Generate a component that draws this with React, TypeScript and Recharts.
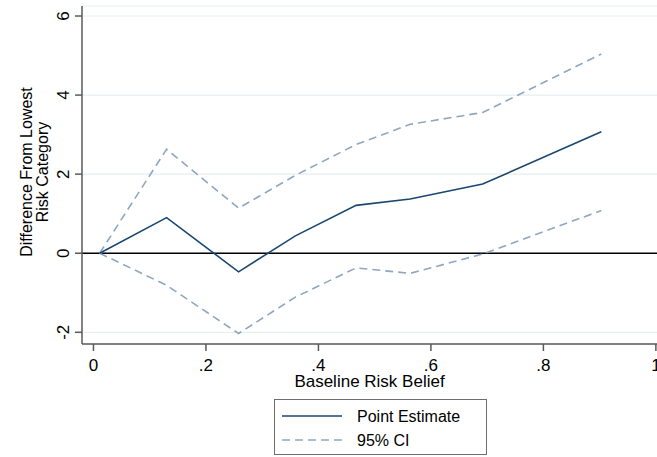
import React from "react";
import {
  LineChart,
  Line,
  CartesianGrid,
  XAxis,
  YAxis,
  ReferenceLine,
  Legend,
  Label,
} from "recharts";

const riskBelief = [0.011, 0.13, 0.258, 0.359, 0.467, 0.563, 0.692, 0.903];
const pointEstimate = [0, 0.9, -0.47, 0.44, 1.21, 1.37, 1.75, 3.07];
const ciUpper = [0, 2.63, 1.14, 1.97, 2.75, 3.26, 3.56, 5.04];
const ciLower = [0, -0.81, -2.03, -1.11, -0.37, -0.51, -0.02, 1.08];

const xTicks = [0, 0.2, 0.4, 0.6, 0.8, 1];
const yTicks = [-2, 0, 2, 4, 6];

const NAVY = "#1a476f";
const LIGHT = "#8fa7bf";
const AXIS = "#5a5a5a";
const FONT = "'Liberation Sans', Arial, sans-serif";

const data = riskBelief.map((x, i) => ({
  x,
  pe: pointEstimate[i],
  hi: ciUpper[i],
  lo: ciLower[i],
}));

const fmtX = (v: number) => (v === 0 || v === 1 ? String(v) : String(v).replace(/^0/, ""));

const XTick = (props: any) => {
  const { x, y, payload } = props;
  return (
    <text x={x} y={y + 20} textAnchor="middle" fontSize={17} fill="#000" fontFamily={FONT}>
      {fmtX(payload.value)}
    </text>
  );
};

const YTick = (props: any) => {
  const { x, y, payload } = props;
  return (
    <text
      transform={`translate(${x - 6},${y}) rotate(-90)`}
      textAnchor="middle"
      fontSize={17}
      fill="#000"
      fontFamily={FONT}
    >
      {payload.value}
    </text>
  );
};

const YTitle = () => (
  <g fontFamily={FONT} fontSize={16} fill="#000">
    <text transform="translate(31.5,172) rotate(-90)" textAnchor="middle">
      Difference From Lowest
    </text>
    <text transform="translate(48,172) rotate(-90)" textAnchor="middle">
      Risk Category
    </text>
  </g>
);

const LegendBox = () => (
  <svg width={214} height={57} style={{ display: "block" }}>
    <rect x={0.5} y={0.5} width={212} height={55} fill="#fff" stroke="#6e6e6e" strokeWidth={1} />
    <line x1={8} y1={17} x2={68} y2={17} stroke={NAVY} strokeWidth={1.6} />
    <line x1={8} y1={41} x2={68} y2={41} stroke={LIGHT} strokeWidth={1.6} strokeDasharray="8 5" />
    <text x={83} y={23} fontSize={16} fontFamily={FONT} fill="#000">
      Point Estimate
    </text>
    <text x={83} y={47} fontSize={16} fontFamily={FONT} fill="#000">
      95% CI
    </text>
  </svg>
);

export default function App() {
  return (
    <div
      style={{
        position: "absolute",
        left: 0,
        top: 0,
        width: 657,
        height: 457,
        background: "#fff",
        overflow: "hidden",
      }}
    >
      <LineChart
        width={657}
        height={457}
        data={data}
        margin={{ top: 6, right: 0, bottom: 0, left: 0 }}
      >
        <CartesianGrid horizontal vertical={false} stroke="#e6eef1" strokeWidth={1.2} />
        <XAxis
          dataKey="x"
          type="number"
          domain={[-0.0204, 1.002]}
          ticks={xTicks}
          allowDataOverflow
          height={113}
          tickSize={7}
          tickMargin={0}
          tick={<XTick />}
          stroke={AXIS}
          strokeWidth={1.5}
          interval={0}
        >
          <Label
            value="Baseline Risk Belief"
            position="insideTop"
            offset={31}
            fontSize={17}
            fill="#000"
            fontFamily={FONT}
          />
        </XAxis>
        <YAxis
          type="number"
          domain={[-2.296, 6.253]}
          ticks={yTicks}
          allowDataOverflow
          width={82}
          tickSize={7}
          tickMargin={0}
          tick={<YTick />}
          stroke={AXIS}
          strokeWidth={1.5}
          interval={0}
          label={<YTitle />}
        />
        <ReferenceLine y={0} stroke="#000" strokeWidth={1.5} />
        <Line
          dataKey="hi"
          stroke={LIGHT}
          strokeWidth={1.6}
          strokeDasharray="8 5"
          dot={false}
          type="linear"
          isAnimationActive={false}
        />
        <Line
          dataKey="lo"
          stroke={LIGHT}
          strokeWidth={1.6}
          strokeDasharray="8 5"
          dot={false}
          type="linear"
          isAnimationActive={false}
        />
        <Line
          dataKey="pe"
          stroke={NAVY}
          strokeWidth={1.6}
          dot={false}
          type="linear"
          isAnimationActive={false}
        />
        <Legend
          layout="vertical"
          align="center"
          verticalAlign="middle"
          wrapperStyle={{ top: 399, left: 274, width: 214, height: 57 }}
          content={() => <LegendBox />}
        />
      </LineChart>
    </div>
  );
}
